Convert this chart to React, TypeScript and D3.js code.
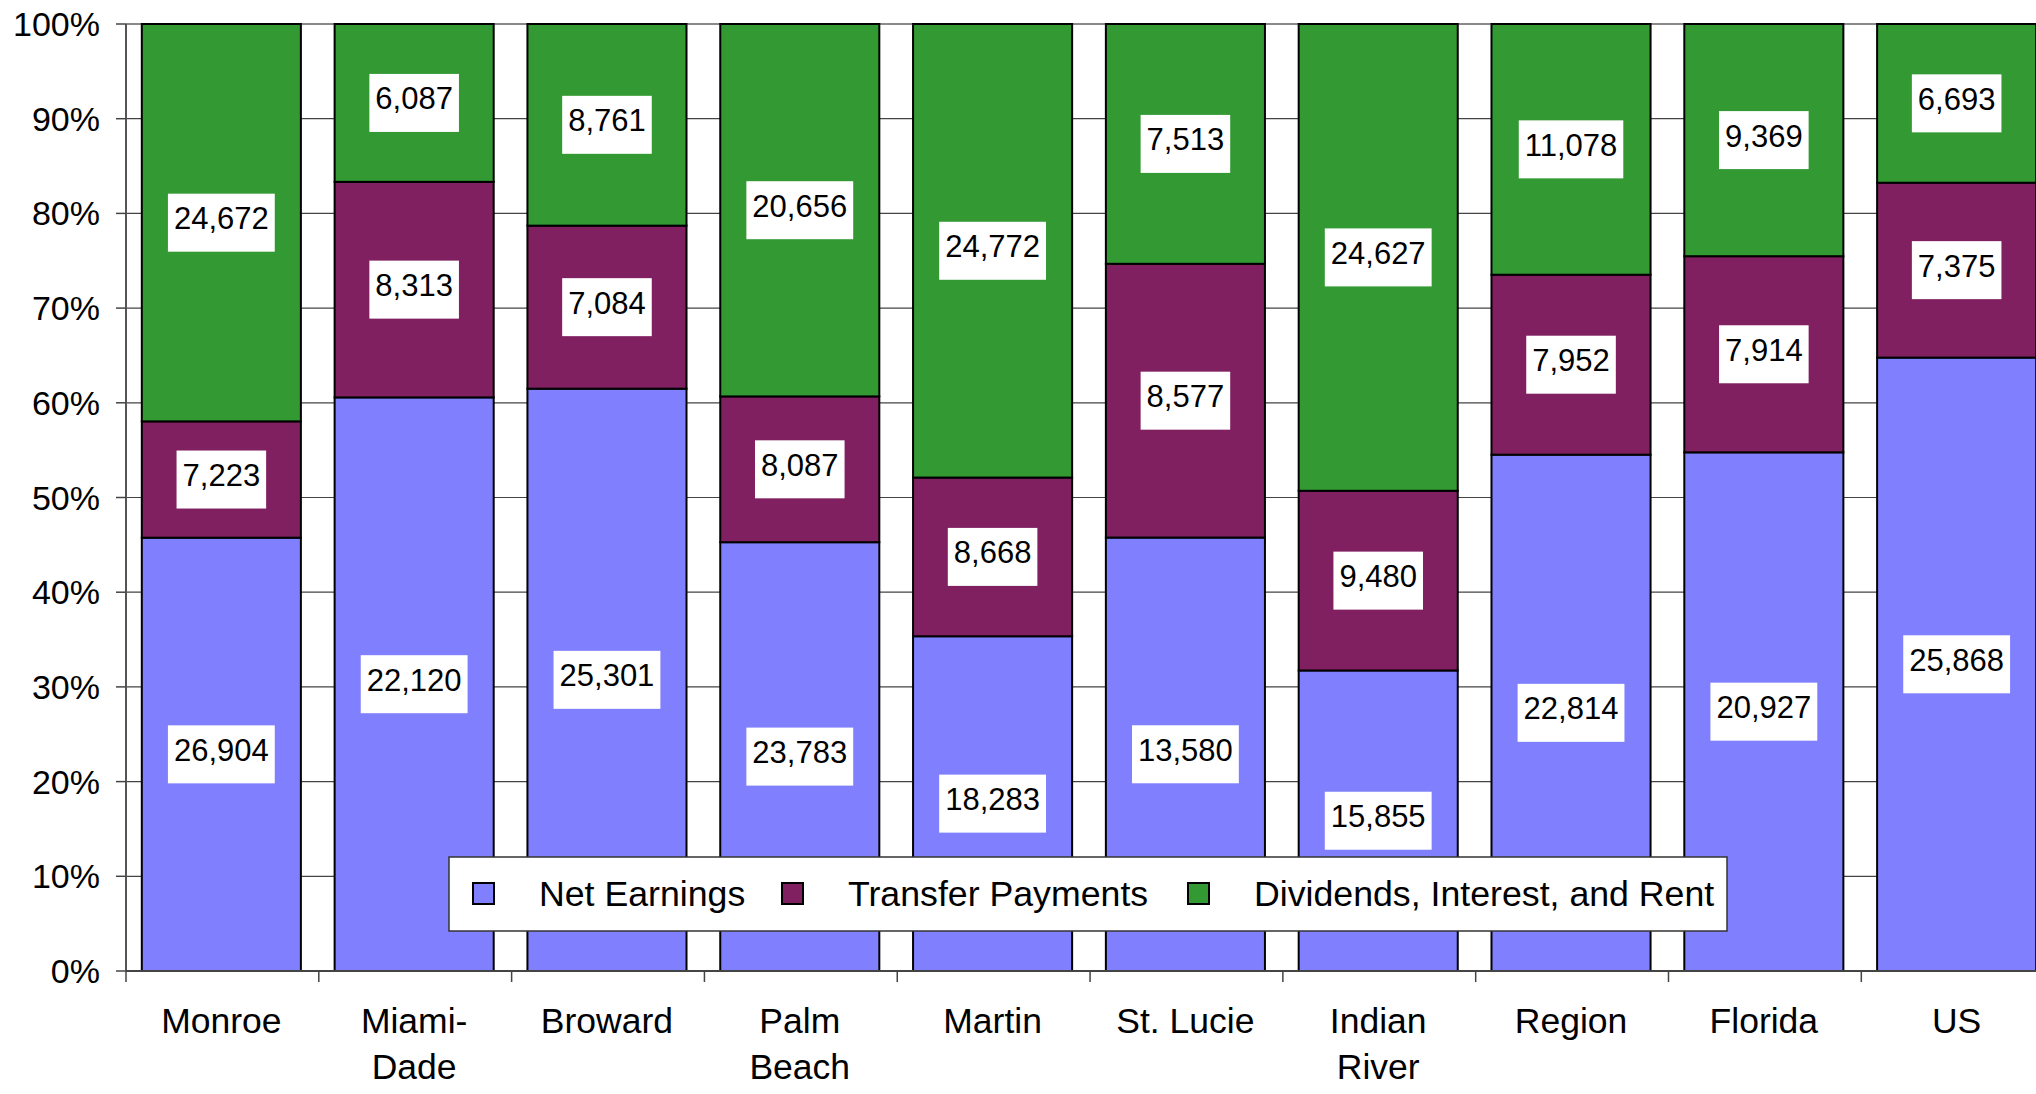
import React, { useEffect, useRef } from "react";
import * as d3 from "d3";

const categories = ["Monroe", "Miami-\nDade", "Broward", "Palm\nBeach", "Martin", "St. Lucie", "Indian\nRiver", "Region", "Florida", "US"];
const netEarnings = [26904, 22120, 25301, 23783, 18283, 13580, 15855, 22814, 20927, 25868];
const transferPayments = [7223, 8313, 7084, 8087, 8668, 8577, 9480, 7952, 7914, 7375];
const dividendsInterestRent = [24672, 6087, 8761, 20656, 24772, 7513, 24627, 11078, 9369, 6693];
const seriesKeys = ["ne", "tp", "dir"];
const seriesNames = ["Net Earnings", "Transfer Payments", "Dividends, Interest, and Rent"];
const seriesColors = ["#8080FF", "#802060", "#339933"];
const yTickValues = [0, 0.1, 0.2, 0.3, 0.4, 0.5, 0.6, 0.7, 0.8, 0.9, 1.0];

const W = 2036;
const H = 1094;
const FONT = "'Liberation Sans', Arial, sans-serif";

export default function App() {
  const ref = useRef<SVGSVGElement | null>(null);

  useEffect(() => {
    const svg = d3.select(ref.current);
    svg.selectAll("*").remove();

    const rows = categories.map((c, i) => ({
      cat: c,
      ne: netEarnings[i],
      tp: transferPayments[i],
      dir: dividendsInterestRent[i],
    }));
    const stacked = d3.stack<any>().keys(seriesKeys).offset(d3.stackOffsetExpand)(rows);

    const left = 126;
    const step = 192.6;
    const x = d3
      .scaleBand<string>()
      .domain(categories)
      .range([left, left + step * categories.length])
      .paddingInner(0.175)
      .paddingOuter(0.082);
    const y = d3.scaleLinear().domain([0, 1]).range([971, 24]);

    // gridlines
    svg
      .append("g")
      .selectAll("line")
      .data(yTickValues.filter((v) => v > 0))
      .join("line")
      .attr("x1", left)
      .attr("x2", W)
      .attr("y1", (d) => y(d))
      .attr("y2", (d) => y(d))
      .attr("stroke", (d) => (d === 1 ? "#8a8a8a" : "#444"))
      .attr("stroke-width", (d) => (d === 1 ? 2 : 1.2));

    // bars
    const gBars = svg.append("g");
    stacked.forEach((layer, li) => {
      gBars
        .append("g")
        .selectAll("rect")
        .data(layer)
        .join("rect")
        .attr("x", (d: any) => x(d.data.cat)!)
        .attr("width", x.bandwidth())
        .attr("y", (d: any) => y(d[1]))
        .attr("height", (d: any) => y(d[0]) - y(d[1]))
        .attr("fill", seriesColors[li])
        .attr("stroke", "#000")
        .attr("stroke-width", 2);
    });

    // data labels
    const gLabels = svg.append("g");
    stacked.forEach((layer) => {
      layer.forEach((d: any) => {
        const val = (d.data as any)[layer.key];
        const cx = x(d.data.cat)! + x.bandwidth() / 2;
        const cy = y((d[0] + d[1]) / 2);
        const g = gLabels.append("g");
        const rect = g.append("rect").attr("fill", "#fff");
        const t = g
          .append("text")
          .attr("x", cx)
          .attr("y", cy - 4)
          .attr("text-anchor", "middle")
          .attr("dominant-baseline", "central")
          .attr("font-family", FONT)
          .attr("font-size", 31)
          .attr("fill", "#000")
          .text(d3.format(",")(val));
        const tw = (t.node() as SVGTextElement).getComputedTextLength();
        rect
          .attr("x", cx - tw / 2 - 6)
          .attr("y", cy - 29)
          .attr("width", tw + 12)
          .attr("height", 58);
      });
    });

    // y axis
    svg
      .append("line")
      .attr("x1", left)
      .attr("x2", left)
      .attr("y1", y(1))
      .attr("y2", y(0))
      .attr("stroke", "#555")
      .attr("stroke-width", 2);
    const gy = svg.append("g");
    yTickValues.forEach((v) => {
      gy.append("line")
        .attr("x1", left - 10)
        .attr("x2", left)
        .attr("y1", y(v))
        .attr("y2", y(v))
        .attr("stroke", "#444")
        .attr("stroke-width", 1.5);
      gy.append("text")
        .attr("x", 100)
        .attr("y", y(v))
        .attr("text-anchor", "end")
        .attr("dominant-baseline", "central")
        .attr("font-family", FONT)
        .attr("font-size", 34)
        .attr("fill", "#000")
        .text(d3.format(".0%")(v));
    });

    // x axis
    svg
      .append("line")
      .attr("x1", left)
      .attr("x2", W)
      .attr("y1", y(0))
      .attr("y2", y(0))
      .attr("stroke", "#444")
      .attr("stroke-width", 2);
    const gx = svg.append("g");
    const stepX = x.step();
    d3.range(categories.length + 1).forEach((i) => {
      const tx = left + i * stepX;
      gx.append("line")
        .attr("x1", tx)
        .attr("x2", tx)
        .attr("y1", y(0))
        .attr("y2", y(0) + 11)
        .attr("stroke", "#444")
        .attr("stroke-width", 1.5);
    });
    categories.forEach((c) => {
      const cx = x(c)! + x.bandwidth() / 2;
      c.split("\n").forEach((line, li) => {
        gx.append("text")
          .attr("x", cx)
          .attr("y", 1021 + li * 46)
          .attr("text-anchor", "middle")
          .attr("dominant-baseline", "central")
          .attr("font-family", FONT)
          .attr("font-size", 35.5)
          .attr("fill", "#000")
          .text(line);
      });
    });

    // legend
    const lg = svg.append("g").attr("transform", "translate(449,857)");
    lg.append("rect")
      .attr("x", 0)
      .attr("y", 0)
      .attr("width", 1278)
      .attr("height", 74)
      .attr("fill", "#fff")
      .attr("stroke", "#333")
      .attr("stroke-width", 1.5);
    const markerX = [24, 333, 739];
    seriesNames.forEach((name, i) => {
      lg.append("rect")
        .attr("x", markerX[i])
        .attr("y", 26)
        .attr("width", 21)
        .attr("height", 21)
        .attr("fill", seriesColors[i])
        .attr("stroke", "#000")
        .attr("stroke-width", 2);
      lg.append("text")
        .attr("x", markerX[i] + 66)
        .attr("y", 37)
        .attr("dominant-baseline", "central")
        .attr("font-family", FONT)
        .attr("font-size", 35.7)
        .attr("fill", "#000")
        .text(name);
    });
  }, []);

  return (
    <div style={{ position: "absolute", left: 0, top: 0, width: W, height: H, background: "#fff" }}>
      <svg ref={ref} width={W} height={H} style={{ display: "block" }} />
    </div>
  );
}
